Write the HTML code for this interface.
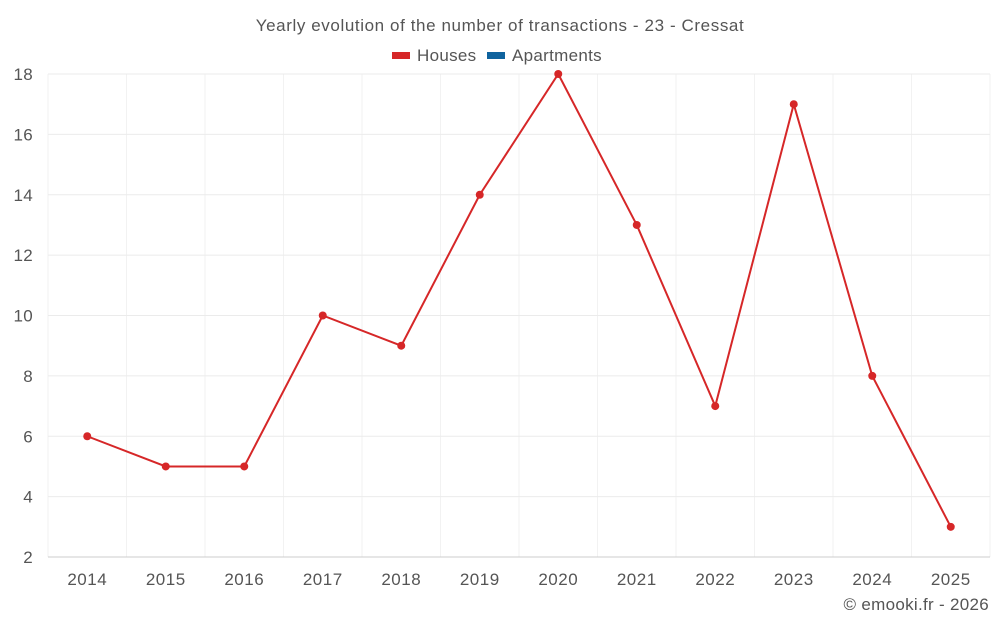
<!DOCTYPE html>
<html><head><meta charset="utf-8"><style>
body{margin:0;background:#fff;font-family:"Liberation Sans",sans-serif;}
svg text{font-family:"Liberation Sans",sans-serif;fill:#555;}
</style></head><body>
<svg id="c" width="1000" height="625" xmlns="http://www.w3.org/2000/svg">
<text x="500" y="31" text-anchor="middle" font-size="17" letter-spacing="0.6">Yearly evolution of the number of transactions - 23 - Cressat</text>
<g>
<g><rect x="392" y="52" width="18" height="7" fill="#d62728"/><text x="417" y="61" font-size="17" letter-spacing="0.3">Houses</text></g>
<g><rect x="487" y="52" width="18" height="7" fill="#0f639e"/><text x="512" y="61" font-size="17" letter-spacing="0.3">Apartments</text></g>
</g>
<g id="grid"></g>
<g id="axes"></g>
<g id="series"></g>
<text x="989" y="610" text-anchor="end" font-size="17" letter-spacing="0.3">© emooki.fr - 2026</text>
</svg>
<script>
const categories=["2014","2015","2016","2017","2018","2019","2020","2021","2022","2023","2024","2025"];
const houses=[6,5,5,10,9,14,18,13,7,17,8,3];
const yTicks=[2,4,6,8,10,12,14,16,18];
const L=48,R=990,T=74,B=557,yMin=2,yMax=18;
const NS="http://www.w3.org/2000/svg";
const bw=(R-L)/categories.length;
const x=i=>L+bw*(i+0.5);
const y=v=>B-(v-yMin)/(yMax-yMin)*(B-T);
function mk(tag,attrs,parent){const e=document.createElementNS(NS,tag);for(const k in attrs)e.setAttribute(k,attrs[k]);parent.appendChild(e);return e;}
const grid=document.getElementById('grid'),axes=document.getElementById('axes'),ser=document.getElementById('series');
for(let i=0;i<=categories.length;i++){
 const l=mk('line',{x1:L+bw*i,x2:L+bw*i,y1:T,y2:B,stroke:'#f2f2f2','stroke-width':1},grid);
 
 
}
yTicks.forEach(t=>{
 const l=mk('line',{x1:L,x2:R,y1:y(t),y2:y(t),stroke:t===yMin?'#ccc':'#ebebeb','stroke-width':1},grid);
 
 
 const tx=mk('text',{x:33,y:y(t)+6,'text-anchor':'end','font-size':17,'letter-spacing':0.3},axes);
 tx.textContent=t;
 
 
});
categories.forEach((c,i)=>{
 const tx=mk('text',{x:x(i),y:585,'text-anchor':'middle','font-size':17,'letter-spacing':0.5},axes);
 tx.textContent=c;
 
 
});
const p=mk('polyline',{points:houses.map((v,i)=>x(i)+','+y(v)).join(' '),fill:'none',stroke:'#d62728','stroke-width':2},ser);


houses.forEach((v,i)=>{
 const c=mk('circle',{cx:x(i),cy:y(v),r:4,fill:'#d62728'},ser);
 
 
});
</script>
</body></html>
